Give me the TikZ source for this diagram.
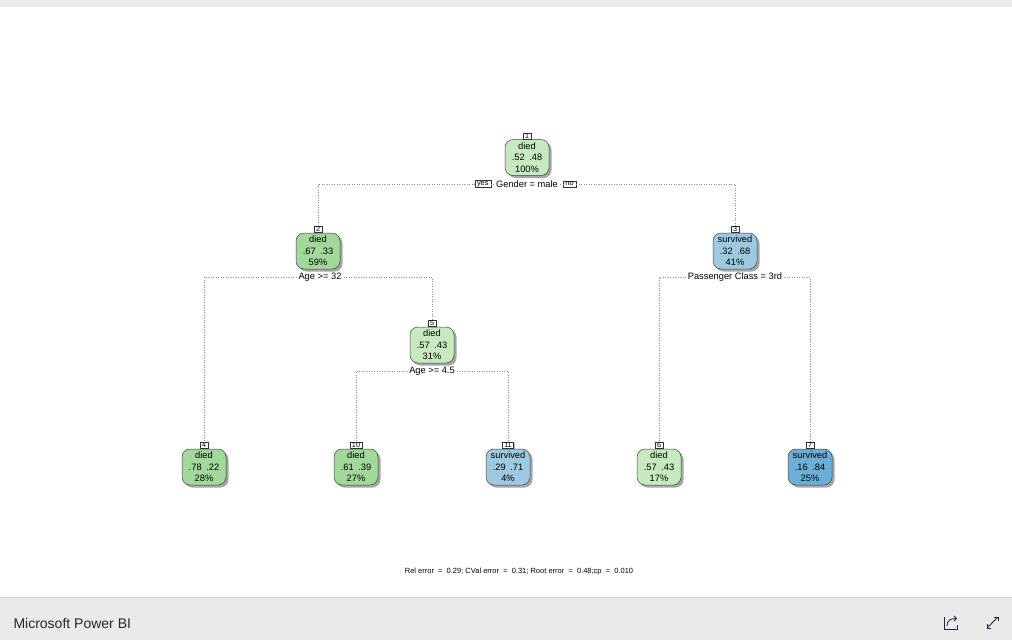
\documentclass[tikz,border=0pt]{standalone}
\usepackage{fontspec}
\setmainfont{Liberation Sans}
\usetikzlibrary{shadows,arrows.meta}

\definecolor{lightgreen}{HTML}{C7E9C0}
\definecolor{midgreen}{HTML}{A1D99B}
\definecolor{lightblue}{HTML}{9ECAE1}
\definecolor{midblue}{HTML}{6BAED6}
\definecolor{barbg}{HTML}{EAEAEA}
\definecolor{barline}{HTML}{D4D4D4}
\definecolor{iconink}{HTML}{2A1F4A}

\tikzset{
  treenode/.style={draw=black!75, line width=0.5pt, rounded corners=8pt,
    minimum width=44pt, minimum height=36pt, inner sep=0pt, align=center,
    font=\fontsize{9.3}{11.4}\selectfont,
    drop shadow={shadow xshift=2.5pt, shadow yshift=-2.5pt, fill=black, opacity=0.35}},
  numlab/.style={draw=black!80, fill=white, line width=0.4pt, inner xsep=1.8pt,
    inner ysep=0.6pt, font=\fontsize{7.2}{7.2}\selectfont, anchor=south,
    drop shadow={shadow xshift=1pt, shadow yshift=-0.6pt, fill=black, opacity=0.3}},
  splitlab/.style={font=\fontsize{9.3}{10}\selectfont, inner sep=2pt},
  yesno/.style={draw=black!80, fill=white, line width=0.4pt, inner xsep=2.2pt,
    inner ysep=0.8pt, font=\fontsize{7.4}{7.4}\selectfont},
  edge/.style={draw=black!45, line width=0.5pt, dotted},
}

\begin{document}
\begin{tikzpicture}[x=1pt, y=-1pt]
  \useasboundingbox (0,0) rectangle (1012,640);
  \fill[white] (0,0) rectangle (1012,640);

  % window frame: top strip and footer
  \fill[barbg] (0,0) rectangle (1012,7);
  \fill[barbg] (0,598) rectangle (1012,640);
  \draw[barline, line width=1.2pt] (0,597.6) -- (1012,597.6);
  \node[anchor=west, font=\fontsize{14}{14}\selectfont, text=black!85] (brand) at (10,623) {Microsoft Power BI};

  % share icon
  \draw[iconink, line width=0.8pt] (944,617) -- (944,629) -- (957,629) -- (957,625);
  \draw[iconink, line width=0.8pt, -{Straight Barb[length=2.5pt]}] (947,626) .. controls (947,620) and (951,618.5) .. (957,618.5);
  % expand icon
  \draw[iconink, line width=0.8pt, {Straight Barb[length=3pt]}-{Straight Barb[length=3pt]}] (986.5,628.5) -- (998.5,616.5);

  % tree nodes
  \node[treenode, fill=lightgreen] (n1) at (527,157.5) {died\\.52\enspace.48\\100\%};
  \node[treenode, fill=midgreen]   (n2) at (318,251) {died\\.67\enspace.33\\59\%};
  \node[treenode, fill=lightblue]  (n3) at (735,251) {survived\\.32\enspace.68\\41\%};
  \node[treenode, fill=lightgreen] (n5) at (432,345) {died\\.57\enspace.43\\31\%};
  \node[treenode, fill=midgreen]   (n4) at (204,467) {died\\.78\enspace.22\\28\%};
  \node[treenode, fill=midgreen]   (n10) at (356,467) {died\\.61\enspace.39\\27\%};
  \node[treenode, fill=lightblue]  (n11) at (508,467) {survived\\.29\enspace.71\\4\%};
  \node[treenode, fill=lightgreen] (n6) at (659,467) {died\\.57\enspace.43\\17\%};
  \node[treenode, fill=midblue]    (n7) at (810,467) {survived\\.16\enspace.84\\25\%};

  % node numbers
  \foreach \k in {1,2,3,4,5,6,7,10,11}
    \node[numlab] (l\k) at (n\k.north) {\k};

  % split labels
  \node[splitlab] (s1) at (527,184) {Gender = male};
  \node[yesno, anchor=east] (yes) at ([xshift=-3pt]s1.west) {yes};
  \node[yesno, anchor=west] (no) at ([xshift=3pt]s1.east) {no};
  \node[splitlab] (s2) at (320,277) {Age >= 32};
  \node[splitlab] (s3) at (735,277) {Passenger Class = 3rd};
  \node[splitlab] (s5) at (432,371) {Age >= 4.5};

  % connectors
  \draw[edge] (yes.east) -- (s1.west);
  \draw[edge] (s1.east) -- (no.west);
  \draw[edge] (yes.west) -| (l2.north);
  \draw[edge] (no.east) -| (l3.north);
  \draw[edge] (s2.west) -| (l4.north);
  \draw[edge] (s2.east) -| (l5.north);
  \draw[edge] (s3.west) -| (l6.north);
  \draw[edge] (s3.east) -| (l7.north);
  \draw[edge] (s5.west) -| (l10.north);
  \draw[edge] (s5.east) -| (l11.north);

  % fit summary
  \node[font=\fontsize{7.5}{8}\selectfont] (summary) at (519,572)
    {Rel error\ \ =\ \ 0.29; CVal error\ \ =\ \ 0.31; Root error\ \ =\ \ 0.48;cp\ \ =\ \ 0.010};
\end{tikzpicture}
\end{document}
